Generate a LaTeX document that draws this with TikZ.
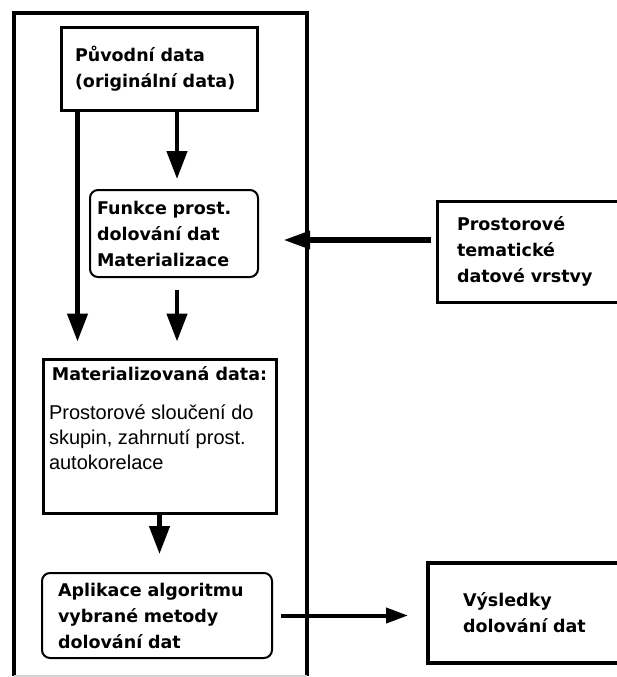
\documentclass[tikz,border=0pt]{standalone}
\usepackage{fontspec}
\setmainfont{DejaVu Sans}
\newfontfamily\plainfont{Liberation Sans}
\usetikzlibrary{arrows.meta,positioning}

\begin{document}
\begin{tikzpicture}[x=1pt, y=-1pt,
	font=\fontsize{17.5}{26}\selectfont\bfseries,
	box/.style={draw, line width=3pt, align=left, inner ysep=4pt},
	roundbox/.style={box, line width=2pt, rounded corners=8pt},
	arr/.style={line width=4.5pt, -{Triangle[width=20pt,length=28pt]}}]

		\useasboundingbox (0,0) rectangle (616,677);

		% Outer frame (bottom edge only faint)
		\draw [line width=4pt] (14,676) -- (14,13) -- (307,13) -- (307,676);
		\draw [line width=2pt, gray!35] (14,676) -- (307,676);

		% Boxes inside the frame
		\node[box, minimum width=196pt, minimum height=82pt, inner xsep=14pt, text width=168pt] (orig) at (159,69) {Původní data\\(originální data)};
		\node[roundbox, minimum width=168pt, minimum height=87pt, inner xsep=7pt, text width=154pt] (func) at (174,233.5) {Funkce prost.\\dolování dat\\Materializace};
		\node[box, inner xsep=6pt] (mat) at (159.5,436) {\parbox[c][146pt][t]{221pt}{\vspace*{3pt}\centering Materializovaná data:\par
			\vspace{14pt}\raggedright\mdseries\plainfont\fontsize{20}{25}\selectfont Prostorové sloučení do\\skupin, zahrnutí prost.\\autokorelace}};
		\node[roundbox, minimum width=230pt, minimum height=85pt, inner xsep=16pt, text width=198pt] (app) at (157,615.5) {Aplikace algoritmu\\vybrané metody\\dolování dat};

		% Boxes outside the frame
		\node[box, minimum width=223pt, minimum height=101pt, inner xsep=20pt, text width=183pt] (layers) at (548.5,251.5) {Prostorové\\tematické\\datové vrstvy};
		\node[box, line width=4pt, minimum width=232pt, minimum height=100pt, inner xsep=35pt, text width=162pt] (results) at (544,613) {Výsledky\\dolování dat};

		% Arrows
		\coordinate (entry) at (283,240);
		\draw[arr, shorten >=10pt] ([xshift=18pt]orig.south) -- ([xshift=3pt]func.north);
		\draw[arr, shorten >=16pt] ([xshift=18pt]orig.south west) -- ([xshift=18pt]orig.south west |- mat.north);
		\draw[arr, shorten <=12pt, shorten >=16pt] ([xshift=3pt]func.south) -- ([xshift=3pt]func.south |- mat.north);
		\draw[arr, shorten >=18pt] (mat.south) -- (mat.south |- app.north);
		\draw[line width=6pt, -{Triangle[width=17pt,length=27pt]}, shorten <=5pt] (layers.west |- entry) -- (entry);
		\draw[line width=4pt, -{Triangle[width=15pt,length=22pt]}, shorten <=8pt, shorten >=18pt] (app.east) -- (app.east -| results.west);
	\end{tikzpicture}
\end{document}
